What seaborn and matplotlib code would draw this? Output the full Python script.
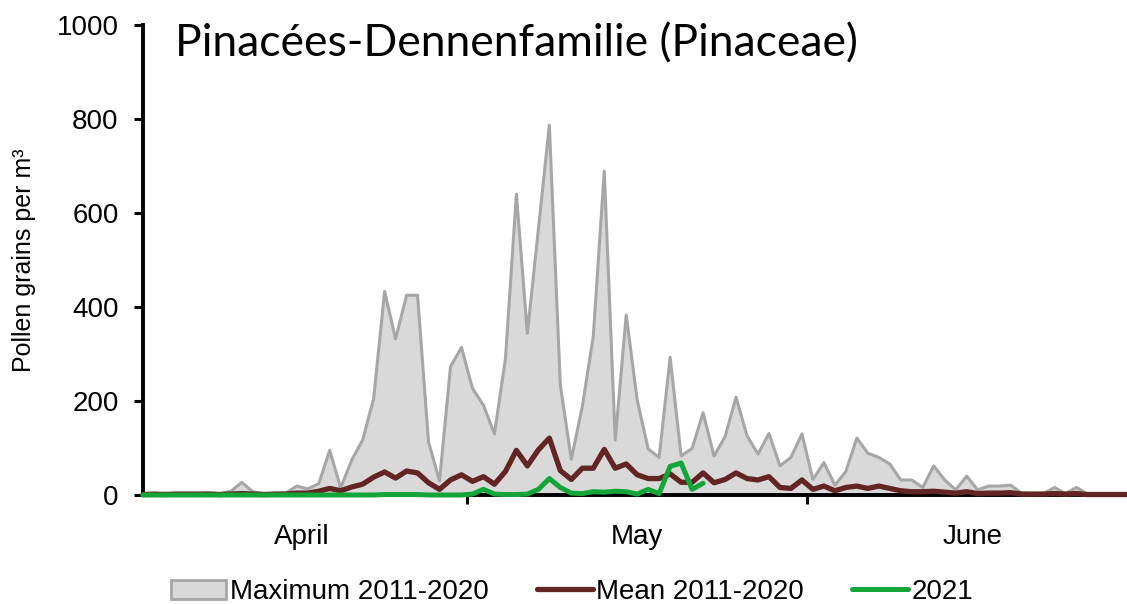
import matplotlib
matplotlib.use('Agg')
import matplotlib.pyplot as plt
from matplotlib.patches import Patch
from matplotlib.lines import Line2D
import seaborn as sns
import numpy as np
import pandas as pd

# Daily values, 1 April .. 30 June
max_2011_2020 = [0, 2, 4, 2, 3, 3, 4, 3, 8, 27, 7, 3, 3, 4, 19, 13, 24, 95, 15, 74,
                 117, 205, 433, 332, 425, 425, 113, 30, 273, 314, 227, 191, 130, 289, 640, 344, 565, 787, 234, 76,
                 188, 337, 689, 117, 383, 202, 98, 80, 293, 83, 99, 175, 83, 124, 208, 126, 87, 131, 62, 80,
                 130, 33, 69, 21, 50, 121, 89, 80, 66, 32, 32, 16, 62, 32, 11, 40, 11, 19, 19, 21,
                 4, 3, 3, 16, 3, 16, 2, 2, 3, 2, 2]
mean_2011_2020 = [1, 2, 1, 2, 2, 2, 2, 1, 2, 3, 2, 1, 2, 2, 4, 4, 8, 14, 9, 17,
                  23, 38, 49, 36, 51, 47, 26, 12, 32, 43, 29, 39, 23, 50, 95, 62, 96, 121, 52, 33,
                  57, 57, 97, 57, 66, 43, 35, 35, 45, 27, 27, 47, 26, 33, 47, 35, 32, 39, 16, 14,
                  32, 12, 19, 9, 16, 19, 14, 19, 14, 9, 7, 7, 8, 6, 4, 7, 3, 4, 4, 5,
                  2, 2, 2, 3, 2, 3, 1, 1, 1, 1, 1]
season_2021 = [0, 0, 0, 0, 0, 0, 0, 0, 0, 0, 0, 0, 0, 0, 0, 0, 0, 0, 0, 0,
               0, 0, 1, 1, 1, 1, 0, 0, 0, 0, 2, 12, 2, 1, 1, 2, 12, 35, 16, 4,
               3, 7, 6, 8, 7, 2, 12, 3, 61, 68, 12, 25]

months = ['April', 'May', 'June']
month_centres = [14.5, 45, 75.5]
month_bounds = [29.5, 60.5]
yticks = [0, 200, 400, 600, 800, 1000]

days = np.arange(len(max_2011_2020))
df = pd.DataFrame({'day': days, 'max': max_2011_2020, 'mean': mean_2011_2020})
df21 = pd.DataFrame({'day': np.arange(len(season_2021)), 'val': season_2021})

gray_fill = '#d9d9d9'
gray_edge = '#a6a6a6'
mean_col = '#632523'
green = '#13a538'

sns.set_style('white')
plt.rcParams['font.family'] = ['Liberation Sans', 'DejaVu Sans']
plt.rcParams['text.color'] = 'black'
plt.rcParams['axes.labelcolor'] = 'black'
plt.rcParams['xtick.color'] = 'black'
plt.rcParams['ytick.color'] = 'black'

fig = plt.figure(figsize=(11.27, 6.04), dpi=100)
ax = fig.add_axes([143 / 1127, 1 - 495 / 604, 1 - 143 / 1127, 470 / 604])

ax.fill_between(df['day'], 0, df['max'], color=gray_fill, lw=0, zorder=1)
sns.lineplot(data=df, x='day', y='max', ax=ax, color=gray_edge, lw=2.2, zorder=3, clip_on=False)
sns.lineplot(data=df, x='day', y='mean', ax=ax, color=mean_col, lw=3.8, zorder=4, clip_on=False)
sns.lineplot(data=df21, x='day', y='val', ax=ax, color=green, lw=3.6, zorder=5, clip_on=False)

ax.set_xlim(0, 89.6)
ax.set_ylim(0, 1000)
ax.set_xlabel('')
ax.set_ylabel('Pollen grains per m³', fontsize=18, labelpad=15)

ax.set_yticks(yticks)
ax.set_yticklabels([str(v) for v in yticks], fontsize=20)
ax.tick_params(axis='y', direction='out', length=6.5, width=2.2, pad=11, left=True)

ax.set_xticks(month_bounds)
ax.set_xticklabels(['', ''])
ax.set_xticks(month_centres, minor=True)
ax.set_xticklabels(months, minor=True, fontsize=20)
ax.tick_params(axis='x', which='major', direction='out', length=6.5, width=2.2, bottom=True)
ax.tick_params(axis='x', which='minor', length=0, pad=21)

for side in ['top', 'right']:
    ax.spines[side].set_visible(False)
for side in ['left', 'bottom']:
    ax.spines[side].set_color('black')
    ax.spines[side].set_linewidth(2.8)
    ax.spines[side].set_zorder(2)

fig.text(175 / 1127, 1 - 44 / 604, 'Pinacées-Dennenfamilie (Pinaceae)',
         fontsize=32, family=['Lato', 'DejaVu Sans'], ha='left', va='center')

handles = [Patch(facecolor=gray_fill, edgecolor=gray_edge, lw=2),
           Line2D([], [], color=mean_col, lw=3.8),
           Line2D([], [], color=green, lw=3.6)]
labels = ['Maximum 2011-2020', 'Mean 2011-2020', '2021']
fig.legend(handles, labels, loc='center', bbox_to_anchor=(572 / 1127, 1 - 592 / 604),
           ncol=3, frameon=False, handlelength=2.0, handletextpad=0.12, columnspacing=1.75,
           prop={'size': 20})

fig.savefig('out.png', dpi=100)
